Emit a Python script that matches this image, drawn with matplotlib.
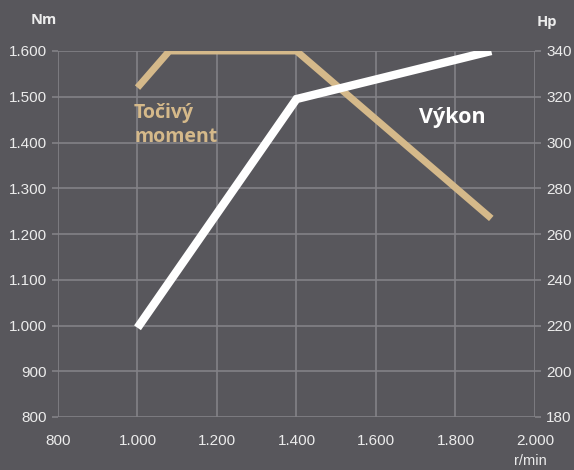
import matplotlib.pyplot as plt

# --- Daten ---
rpm_torque = [1000, 1080, 1400, 1890]
torque_nm = [1520, 1600, 1600, 1234]
rpm_power = [1000, 1400, 1890]
power_hp = [219, 319, 340]

x_ticks = [800, 1000, 1200, 1400, 1600, 1800, 2000]
nm_ticks = [800, 900, 1000, 1100, 1200, 1300, 1400, 1500, 1600]
hp_ticks = [180, 200, 220, 240, 260, 280, 300, 320, 340]

BG = '#58575c'
GRID = '#838287'
GOLD = '#d5b98a'
TEXT = '#ececec'

plt.rcParams['font.family'] = ['Liberation Sans', 'DejaVu Sans']
LABEL_FONT = ['Open Sans', 'DejaVu Sans']


def fmt(v):
    return f"{v:,}".replace(',', '.')


fig = plt.figure(figsize=(5.74, 4.70), dpi=100, facecolor=BG)
ax = fig.add_axes([58 / 574, 53 / 470, 477 / 574, 366 / 470])
ax.set_facecolor(BG)
ax2 = ax.twinx()

ax.set_xlim(800, 2000)
ax.set_ylim(800, 1600)
ax2.set_ylim(180, 340)

ax.set_xticks(x_ticks)
ax.set_xticklabels([fmt(v) for v in x_ticks])
ax.set_yticks(nm_ticks)
ax.set_yticklabels([fmt(v) for v in nm_ticks])
ax2.set_yticks(hp_ticks)

for a in (ax, ax2):
    for s in a.spines.values():
        s.set_visible(False)
ax.grid(True, color=GRID, linewidth=1.2)
ax.set_axisbelow(True)
ax.tick_params(axis='y', colors=GRID, labelcolor=TEXT, labelsize=11, length=4, width=1.2, pad=4)
ax.tick_params(axis='x', length=0, labelcolor=TEXT, labelsize=11, pad=12)
ax2.tick_params(axis='y', colors=GRID, labelcolor=TEXT, labelsize=11, length=4, width=1.2, pad=4)

ax.plot(rpm_torque, torque_nm, color=GOLD, linewidth=5, solid_capstyle='butt', solid_joinstyle='miter', zorder=3)
ax2.plot(rpm_power, power_hp, color='white', linewidth=6, solid_capstyle='butt', solid_joinstyle='miter', zorder=4)

fig.text(44 / 574, 1 - 20 / 470, 'Nm', color=TEXT, fontsize=10.5, fontweight='bold', ha='center', va='center',
         family=LABEL_FONT)
fig.text(547 / 574, 1 - 22 / 470, 'Hp', color=TEXT, fontsize=10.5, fontweight='bold', ha='center', va='center',
         family=LABEL_FONT)
fig.text(530 / 574, 1 - 461 / 470, 'r/min', color=TEXT, fontsize=10.5, ha='center', va='center')
fig.text(134 / 574, 1 - 125 / 470, 'Točivý\nmoment', color=GOLD, fontsize=14, fontweight='bold',
         ha='left', va='center', linespacing=1.3, family=LABEL_FONT)
fig.text(419 / 574, 1 - 118 / 470, 'Výkon', color='white', fontsize=15.5, fontweight='bold',
         ha='left', va='center', family=LABEL_FONT)

fig.savefig('out.png', dpi=100, facecolor=BG)
